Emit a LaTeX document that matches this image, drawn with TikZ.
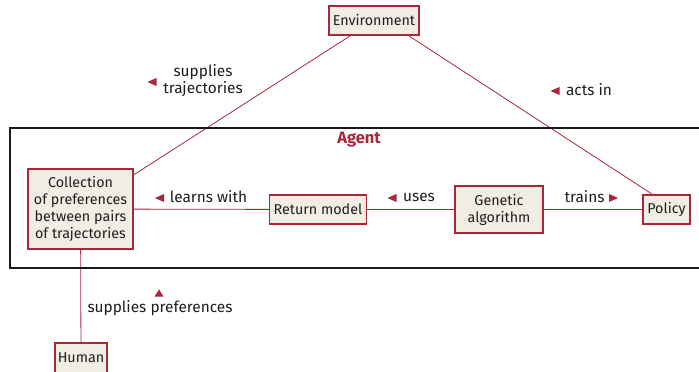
\documentclass[tikz,border=0pt]{standalone}
\usepackage{fontspec}
\setmainfont{Fira Sans}
\usetikzlibrary{calc,backgrounds}
\definecolor{ared}{HTML}{A8283A}
\definecolor{abeige}{HTML}{F0EDE5}
\definecolor{atext}{HTML}{1E1E1E}
\tikzset{
  box/.style={draw=ared, line width=1.5pt, fill=abeige, inner sep=0pt, align=center,
    font=\fontsize{14.3}{17}\selectfont, text=atext},
  lbl/.style={inner sep=0pt, align=center, font=\fontsize{15.4}{17}\selectfont, text=atext},
  conn/.style={draw=ared, line width=0.8pt},
  triL/.pic={\fill[ared] (4.5,-4) -- (-4.5,0) -- (4.5,4) -- cycle;},
  triR/.pic={\fill[ared] (-4.5,-4) -- (4.5,0) -- (-4.5,4) -- cycle;},
  triU/.pic={\fill[ared] (-4.5,3.7) -- (0,-3.7) -- (4.5,3.7) -- cycle;},
}
\begin{document}
\begin{tikzpicture}[x=1pt,y=-1pt]
\useasboundingbox (0,0) rectangle (699,372);
% agent frame
\draw[line width=1.6pt, draw=black!90] (10,128) rectangle (710,268);
\node[inner sep=0pt, font=\fontsize{16.5}{17}\selectfont\bfseries, text=ared] (agent) at (359,140) {Agent};
% boxes
\node[box, minimum width=90pt, minimum height=29pt] (env) at (374,20.5) {Environment};
\node[box, minimum width=105pt, minimum height=80pt] (coll) at (80.5,209) {Collection\\of preferences\\between pairs\\of trajectories};
\node[box, minimum width=97pt, minimum height=29pt] (ret) at (318,209.5) {Return model};
\node[box, minimum width=88pt, minimum height=47pt] (gen) at (499,209.5) {Genetic\\algorithm};
\node[box, minimum width=47pt, minimum height=29pt] (pol) at (666.5,209.5) {Policy};
\node[box, minimum width=52pt, minimum height=30pt] (hum) at (81,358) {Human};
% connectors
\begin{scope}[on background layer]
\path[conn] (env) -- (coll);
\path[conn] ($(env.south east)+(-11,0)$) -- ($(pol.north west)+(10,0)$);
\path[conn] (coll) -- (ret);
\path[conn] (ret) -- (gen);
\path[conn] (gen) -- (pol);
\path[conn] (coll) -- (hum);
\end{scope}
% labels
\node[lbl] (l1) at (203,80.5) {supplies\\trajectories};
\pic at (152,82) {triL};
\node[lbl] (l2) at (589,90) {acts in};
\pic at (555,91) {triL};
\node[lbl] (l3) at (208.5,197) {learns with};
\pic at (159.5,198) {triL};
\node[lbl] (l4) at (419,197) {uses};
\pic at (392,198) {triL};
\node[lbl] (l5) at (584.5,197) {trains};
\pic at (613.5,198) {triR};
\node[lbl] (l6) at (160,308) {supplies preferences};
\pic at (159,293) {triU};
\end{tikzpicture}
\end{document}
